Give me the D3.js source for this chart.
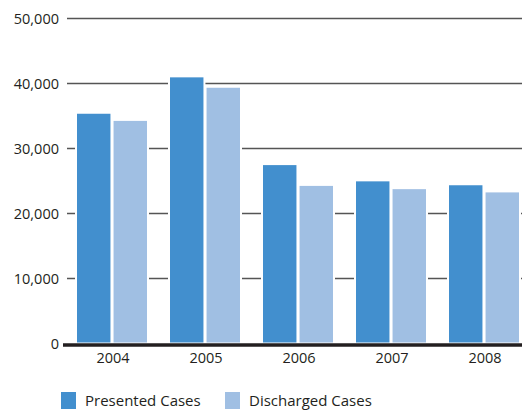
<!DOCTYPE html>
<html>
<head>
<meta charset="utf-8">
<script src="https://cdn.jsdelivr.net/npm/d3@7"></script>
<style>
  html, body { margin: 0; padding: 0; background: #fff; }
  svg { display: block; }
  text { font-family: "Open Sans", "Noto Sans", sans-serif; fill: #231f20; }
</style>
</head>
<body>
<svg id="chart" width="522" height="410"></svg>
<script>
// Annual case counts
const years = ["2004", "2005", "2006", "2007", "2008"];
const seriesNames = ["Presented Cases", "Discharged Cases"];
const presented = [35500, 41100, 27600, 25100, 24500];
const discharged = [34400, 39500, 24400, 23900, 23400];
const yTicks = [0, 10000, 20000, 30000, 40000, 50000];
const colors = ["#428fce", "#a0bfe3"];

const svg = d3.select("#chart");

const y = d3.scaleLinear().domain([0, 50000]).range([343.5, 18.5]);
const x0 = d3.scaleBand().domain(years).range([76, 520]).paddingInner(21 / 93).paddingOuter(0);
const x1 = d3.scaleBand().domain(seriesNames).range([0, x0.bandwidth()]).paddingInner(0.03);

// Horizontal gridlines
svg.append("g")
  .selectAll("line")
  .data(yTicks.filter(d => d > 0))
  .join("line")
  .attr("x1", 67).attr("x2", 522)
  .attr("y1", d => y(d)).attr("y2", d => y(d))
  .attr("stroke", "#555")
  .attr("stroke-width", 1.5);

// Y-axis labels
const yAxis = d3.axisLeft(y).tickValues(yTicks).tickSize(0).tickPadding(0)
  .tickFormat(d3.format(","));
svg.append("g")
  .attr("transform", "translate(59,0)")
  .call(yAxis)
  .call(g => g.select(".domain").remove())
  .call(g => g.selectAll("text")
    .attr("font-size", 14.5)
    .attr("font-family", "'Open Sans', 'Noto Sans', sans-serif")
    .attr("fill", "#231f20"));

// Bars
const rows = years.map((yr, i) => ({ year: yr, values: [presented[i], discharged[i]] }));
svg.append("g")
  .selectAll("g")
  .data(rows)
  .join("g")
  .attr("transform", d => `translate(${x0(d.year)},0)`)
  .selectAll("rect")
  .data(d => d.values.map((v, k) => ({ key: seriesNames[k], value: v, k })))
  .join("rect")
  .attr("x", d => x1(d.key))
  .attr("width", x1.bandwidth())
  .attr("y", d => y(d.value))
  .attr("height", d => y(0) - y(d.value))
  .attr("fill", d => colors[d.k])
  .attr("stroke", "#fff")
  .attr("stroke-width", 2);

// Baseline
svg.append("line")
  .attr("x1", 63).attr("x2", 522)
  .attr("y1", 345).attr("y2", 345)
  .attr("stroke", "#231f20")
  .attr("stroke-width", 3.5);

// X-axis labels
const xAxis = d3.axisBottom(x0).tickSize(0).tickPadding(0);
svg.append("g")
  .attr("transform", "translate(1,349)")
  .call(xAxis)
  .call(g => g.select(".domain").remove())
  .call(g => g.selectAll("text")
    .attr("dy", "0.95em")
    .attr("font-size", 14.5)
    .attr("font-family", "'Open Sans', 'Noto Sans', sans-serif")
    .attr("fill", "#231f20"));

// Legend
const legendX = [61, 225];
const legend = svg.append("g")
  .selectAll("g")
  .data(seriesNames)
  .join("g")
  .attr("transform", (d, i) => `translate(${legendX[i]},392)`);
legend.append("rect")
  .attr("width", 15).attr("height", 17)
  .attr("fill", (d, i) => colors[i]);
legend.append("text")
  .attr("x", 24).attr("y", 13.5)
  .attr("font-size", 15)
  .text(d => d);
</script>
</body>
</html>
